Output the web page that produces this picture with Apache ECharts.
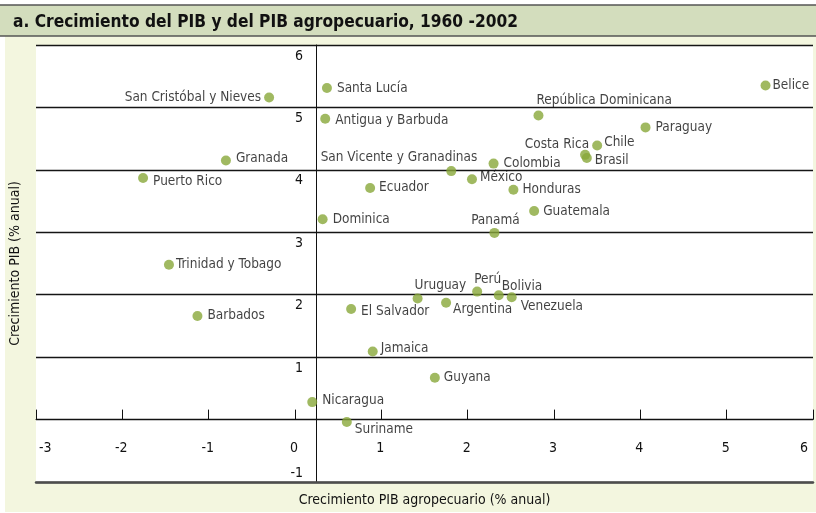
<!DOCTYPE html>
<html>
<head>
<meta charset="utf-8">
<script src="https://cdn.jsdelivr.net/npm/echarts@6/dist/echarts.min.js"></script>
<style>
  html, body { margin: 0; padding: 0; background: #fff; }
  #chart { width: 816px; height: 513px; }
</style>
</head>
<body>
<div id="chart"></div>
<script>
// países y valores (% anual)
var paises = ['San Cristóbal y Nieves', 'Granada', 'Puerto Rico', 'Santa Lucía', 'Antigua y Barbuda',
    'República Dominicana', 'San Vicente y Granadinas', 'Colombia', 'México', 'Ecuador', 'Honduras',
    'Guatemala', 'Dominica', 'Panamá', 'Costa Rica', 'Chile', 'Brasil', 'Paraguay', 'Belice',
    'Trinidad y Tobago', 'Barbados', 'Uruguay', 'Perú', 'Argentina', 'Bolivia', 'Venezuela',
    'El Salvador', 'Jamaica', 'Guyana', 'Nicaragua', 'Suriname'];
var pibAgro = [-0.30, -0.80, -1.76, 0.37, 0.35, 2.82, 1.81, 2.30, 2.05, 0.87, 2.53,
    2.77, 0.32, 2.31, 3.36, 3.50, 3.38, 4.06, 5.45, -1.46, -1.13, 1.42, 2.11, 1.75, 2.36, 2.51,
    0.65, 0.90, 1.62, 0.20, 0.60];
var pib = [5.16, 4.15, 3.87, 5.31, 4.82, 4.87, 3.98, 4.10, 3.85, 3.71, 3.68,
    3.34, 3.21, 2.99, 4.24, 4.39, 4.19, 4.68, 5.35, 2.48, 1.66, 1.94, 2.05, 1.87, 1.99, 1.96,
    1.77, 1.09, 0.67, 0.28, -0.04];
var ejeX = [-3, 6];
var ejeY = [-1, 6];

var FONT = "'Liberation Sans Narrow', 'DejaVu Sans Condensed', sans-serif";
var VERDE = '#88a83a';
var TXT = '#111';

// colocación de cada etiqueta
var etiquetas = {
    'San Cristóbal y Nieves': { position: 'left', distance: 3 },
    'Granada': { offset: [0, -2] },
    'Puerto Rico': { offset: [0, 4] },
    'Antigua y Barbuda': { offset: [0, 2] },
    'República Dominicana': { position: 'top', align: 'left', offset: [-2, 2] },
    'San Vicente y Granadinas': { position: 'top', align: 'right', offset: [26, 3] },
    'México': { distance: 3, offset: [0, -2] },
    'Ecuador': { distance: 4 },
    'Honduras': { distance: 4 },
    'Guatemala': { distance: 4 },
    'Panamá': { position: 'top', offset: [1, 5] },
    'Costa Rica': { position: 'top', align: 'right', offset: [4, 7] },
    'Chile': { distance: 2, offset: [0, -3] },
    'Brasil': { distance: 3, offset: [0, 3] },
    'Belice': { distance: 2 },
    'Trinidad y Tobago': { distance: 2 },
    'Uruguay': { position: 'top', align: 'left', offset: [-3, 4] },
    'Perú': { position: 'top', align: 'left', offset: [-3, 5] },
    'Bolivia': { distance: 0, offset: [-2, -9] },
    'Argentina': { distance: 2, offset: [0, 7] },
    'Venezuela': { distance: 4, offset: [0, 9] },
    'El Salvador': { offset: [0, 2] },
    'Jamaica': { distance: 3, offset: [0, -3] },
    'Guyana': { distance: 4 },
    'Nicaragua': { offset: [0, -2] },
    'Suriname': { distance: 3, offset: [0, 7] }
};

var puntos = paises.map(function(p, i) {
    var lab = Object.assign({ show: true, position: 'right', distance: 5, color: TXT }, etiquetas[p] || {});
    return { name: p, value: [pibAgro[i], pib[i]], label: lab };
});

var myChart = echarts.init(document.getElementById('chart'));

var option = {
    animation: false,
    backgroundColor: '#fff',
    textStyle: { fontFamily: FONT },
    graphic: [
        { type: 'rect', z: -10, shape: { x: 5, y: 36, width: 811, height: 476 }, style: { fill: '#f3f6df' } },
        { type: 'rect', z: -10, shape: { x: 0, y: 5, width: 816, height: 31 },
          style: { fill: '#d3ddbd' } },
        { type: 'line', z: -9, shape: { x1: 0, y1: 5, x2: 816, y2: 5 }, style: { stroke: '#555', lineWidth: 1.5 } },
        { type: 'line', z: -9, shape: { x1: 0, y1: 36, x2: 816, y2: 36 }, style: { stroke: '#555', lineWidth: 1.5 } }
    ],
    title: {
        text: 'a. Crecimiento del PIB y del PIB agropecuario, 1960 -2002',
        left: 8,
        top: 9,
        textStyle: { fontFamily: FONT, fontSize: 17.2, fontWeight: 'bold', color: TXT }
    },
    grid: {
        left: 34, right: 3, top: 45, bottom: 31,
        show: true, backgroundColor: '#fff', borderWidth: 0
    },
    xAxis: [{
        type: 'value',
        position: 'bottom',
        offset: -62.4,
        min: ejeX[0], max: ejeX[1], interval: 1,
        axisLine: { onZero: false, lineStyle: { color: '#111', width: 1 } },
        axisTick: { inside: true, length: 10, lineStyle: { color: '#111' } },
        axisLabel: { margin: 22, fontSize: 14, color: TXT, fontFamily: FONT,
            alignMinLabel: 'left', alignMaxLabel: 'right',
            padding: [0, 5, 0, 3] },
        splitLine: { show: false }
    }, {
        type: 'value',
        position: 'bottom',
        min: ejeX[0], max: ejeX[1], interval: 1,
        axisLine: { onZero: false, lineStyle: { color: '#4d4d4d', width: 2.5 } },
        axisTick: { show: false },
        axisLabel: { show: false },
        splitLine: { show: false },
        name: 'Crecimiento PIB agropecuario (% anual)',
        nameLocation: 'middle',
        nameGap: 11,
        nameTextStyle: { fontSize: 14, color: TXT, fontFamily: FONT }
    }],
    yAxis: [{
        type: 'value',
        position: 'left',
        offset: -280,
        min: ejeY[0], max: ejeY[1], interval: 1,
        axisLine: { show: true, onZero: false, lineStyle: { color: '#111', width: 1 } },
        axisTick: { show: false },
        axisLabel: {
            margin: 13, fontSize: 14, color: TXT, fontFamily: FONT,
            verticalAlign: 'top', lineHeight: 22,
            formatter: function(v) { return v > 0 ? String(v) : ''; }
        },
        splitLine: { show: true, lineStyle: { color: '#151515', width: 1.3 } },
        name: 'Crecimiento PIB (% anual)',
        nameLocation: 'middle',
        nameGap: 294,
        nameTextStyle: { fontSize: 14, color: TXT, fontFamily: FONT }
    }, {
        type: 'value',
        position: 'left',
        offset: -280,
        min: ejeY[0], max: ejeY[1], interval: 1,
        axisLine: { show: false },
        axisTick: { show: false },
        axisLabel: {
            margin: 13, fontSize: 14, color: TXT, fontFamily: FONT,
            verticalAlign: 'bottom', lineHeight: 18,
            formatter: function(v) { return v < 0 ? String(v) : ''; }
        },
        splitLine: { show: false }
    }],
    series: [{
        type: 'scatter',
        symbolSize: 10,
        itemStyle: { color: VERDE },
        label: { fontSize: 13.5, color: TXT, fontFamily: FONT,
            formatter: function(p) { return p.name; } },
        data: puntos
    }]
};

myChart.setOption(option);
</script>
</body>
</html>
